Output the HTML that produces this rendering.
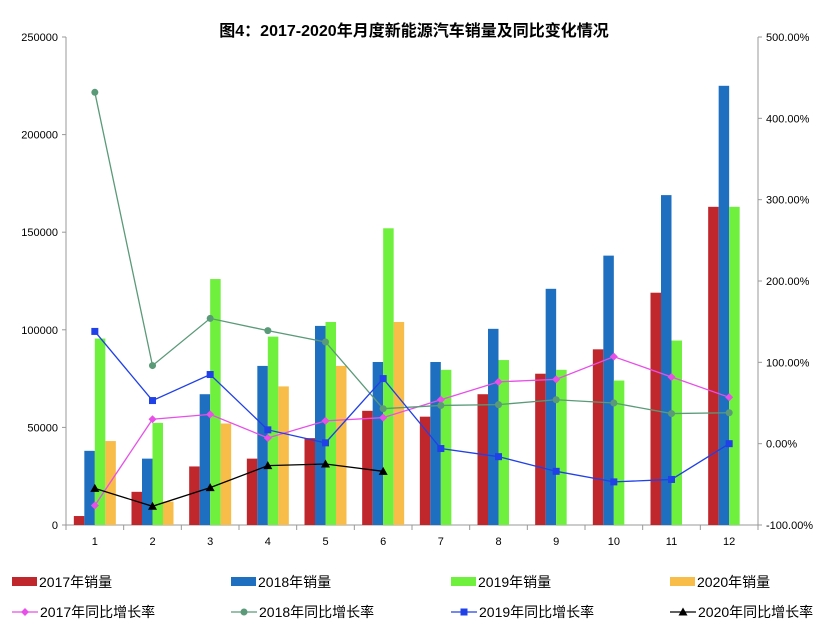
<!DOCTYPE html>
<html><head><meta charset="utf-8"><style>
body{margin:0;background:#fff;font-family:"Liberation Sans","Noto Sans CJK SC",sans-serif;}
svg text{font-family:"Liberation Sans","Noto Sans CJK SC",sans-serif;}
</style></head><body>
<svg id="c" width="828" height="632"></svg>
<script>
const categories=["1","2","3","4","5","6","7","8","9","10","11","12"];
const sales2017=[4600,17000,30000,34000,44500,58500,55500,67000,77500,90000,119000,163000];
const sales2018=[38000,34000,67000,81500,102000,83500,83500,100500,121000,138000,169000,225000];
const sales2019=[95500,52300,126000,96500,104000,152000,79500,84500,79500,74000,94500,163000];
const sales2020=[43000,12000,52000,71000,81500,104000];
const yoy2017=[-76,30,36,7,28,32,54,76,79,107,82,57];
const yoy2018=[432,96,154,139,125,43,47,48,54,50,37,38];
const yoy2019=[138,53,85,17,1,80,-6,-16,-34,-47,-44,0];
const yoy2020=[-55,-77,-54,-27,-25,-34];
const leftTicks=[0,50000,100000,150000,200000,250000];
const rightTicks=[-100,0,100,200,300,400,500];

const NS="http://www.w3.org/2000/svg";
const svg=document.getElementById('c');
function el(t,a,p){const e=document.createElementNS(NS,t);for(const k in a)e.setAttribute(k,a[k]);(p||svg).appendChild(e);return e;}
const X0=66,X1=758,Y0=525,Y1=37;
const step=(X1-X0)/categories.length;
const cx=i=>X0+step*(i+0.5);
const yL=v=>Y0-(v/250000)*(Y0-Y1);
const yR=p=>Y0-((p+100)/600)*(Y0-Y1);

let t=el('text',{x:414,y:36,'text-anchor':'middle','font-size':16,'font-weight':'bold',fill:'#000'});
t.textContent='图4：2017-2020年月度新能源汽车销量及同比变化情况';



// axes
let a=el('line',{x1:X0,y1:Y1,x2:X0,y2:Y0,stroke:'#999'});

a=el('line',{x1:X1,y1:Y1,x2:X1,y2:Y0,stroke:'#999'});

a=el('line',{x1:X0,y1:Y0,x2:X1,y2:Y0,stroke:'#999'});

leftTicks.forEach(v=>{
  el('line',{x1:X0-4,y1:yL(v),x2:X0,y2:yL(v),stroke:'#999'});
  const tx=el('text',{x:X0-8,y:yL(v)+4,'text-anchor':'end','font-size':11,fill:'#000'});
  tx.textContent=v;
  
  
});
rightTicks.forEach(v=>{
  el('line',{x1:X1,y1:yR(v),x2:X1+4,y2:yR(v),stroke:'#999'});
  const tx=el('text',{x:X1+8,y:yR(v)+4,'font-size':11,fill:'#000'});
  tx.textContent=v.toFixed(2)+'%';
  
  
});
for(let i=0;i<=categories.length;i++)el('line',{x1:X0+step*i,y1:Y0,x2:X0+step*i,y2:Y0+5,stroke:'#999'});
categories.forEach((c,i)=>{
  const tx=el('text',{x:cx(i),y:545,'text-anchor':'middle','font-size':11,fill:'#000'});
  tx.textContent=c;
  
  
});

const bw=10.5;
const barSeries=[[sales2017,'#c0272d',-2],[sales2018,'#1f6fc0',-1],[sales2019,'#6ef03c',0],[sales2020,'#f8bc48',1]];
barSeries.forEach(([d,col,o],si)=>{
  d.forEach((v,i)=>{
    const r=el('rect',{x:cx(i)+o*bw,y:yL(v),width:bw,height:Y0-yL(v),fill:col});
    
    
  });
});

const lineSeries=[[yoy2017,'#e84fe8','diamond'],[yoy2018,'#5a9a78','circle'],[yoy2019,'#2040e8','square'],[yoy2020,'#000','triangle']];
lineSeries.forEach(([d,col,m],si)=>{
  const pts=d.map((v,i)=>cx(i)+','+yR(v)).join(' ');
  const pl=el('polyline',{points:pts,fill:'none',stroke:col,'stroke-width':1.3});
  
  
  d.forEach((v,i)=>{
    const x=cx(i),y=yR(v);let mk;
    if(m==='diamond')mk=el('polygon',{points:`${x},${y-4} ${x+4},${y} ${x},${y+4} ${x-4},${y}`,fill:col});
    else if(m==='circle')mk=el('circle',{cx:x,cy:y,r:3.5,fill:col});
    else if(m==='square')mk=el('rect',{x:x-3.5,y:y-3.5,width:7,height:7,fill:col});
    else mk=el('polygon',{points:`${x},${y-4.5} ${x+4.5},${y+3.5} ${x-4.5},${y+3.5}`,fill:col});
    
    
  });
});

// legend
const legX=[12,231,451,670];
const names=['2017年销量','2018年销量','2019年销量','2020年销量'];
const cols=['#c0272d','#1f6fc0','#6ef03c','#f8bc48'];
names.forEach((n,i)=>{
  const g=el('g',{});
  
  
  el('rect',{x:legX[i],y:577,width:25,height:9,fill:cols[i]},g);
  const tx=el('text',{x:legX[i]+27,y:587,'font-size':14,fill:'#000'},g);tx.textContent=n;
});
lineSeries.forEach(([d,col,m],i)=>{
  const g=el('g',{});
  
  
  const x=legX[i],y=612,mx=x+13;
  el('line',{x1:x,y1:y,x2:x+26,y2:y,stroke:col,'stroke-width':1.3},g);
  if(m==='diamond')el('polygon',{points:`${mx},${y-4} ${mx+4},${y} ${mx},${y+4} ${mx-4},${y}`,fill:col},g);
  else if(m==='circle')el('circle',{cx:mx,cy:y,r:3.5,fill:col},g);
  else if(m==='square')el('rect',{x:mx-3.5,y:y-3.5,width:7,height:7,fill:col},g);
  else el('polygon',{points:`${mx},${y-4.5} ${mx+4.5},${y+3.5} ${mx-4.5},${y+3.5}`,fill:col},g);
  const tx=el('text',{x:x+28,y:y+5,'font-size':14,fill:'#000'},g);tx.textContent=(2017+i)+'年同比增长率';
});
</script>
</body></html>
